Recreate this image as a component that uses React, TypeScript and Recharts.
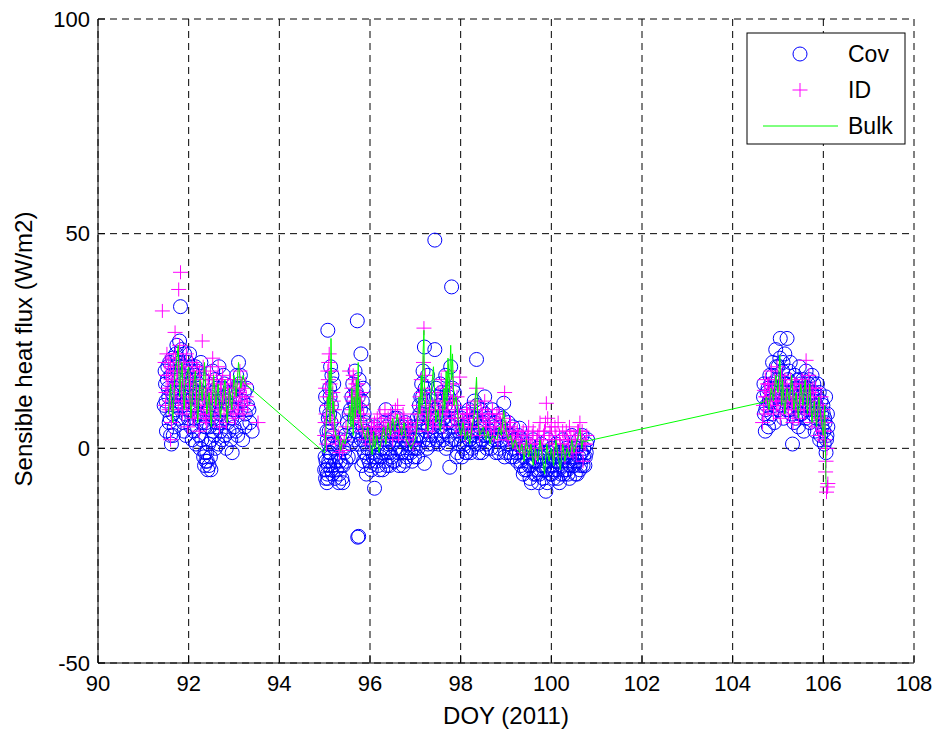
import React from 'react';
import { ComposedChart, Scatter, XAxis, YAxis, CartesianGrid, Label } from 'recharts';

// ---------- data (DOY, sensible heat flux W/m2) ----------
const xTicks = [90, 92, 94, 96, 98, 100, 102, 104, 106, 108];
const yTicks = [-50, 0, 50, 100];

const covBlock1: [number, number][] = [
  [91.48,18],[91.5,11],[91.52,9],[91.55,14],[91.57,6],[91.6,3],[91.62,1],[91.65,8],[91.67,12],[91.7,19],
  [91.72,22],[91.74,24],[91.76,21],[91.78,16],[91.8,25],[91.82,33],[91.84,23],[91.86,10],[91.88,6],[91.9,4],
  [91.93,13],[91.95,18],[91.98,20],[92.0,15],[92.03,9],[92.05,5],[92.08,2],[92.1,12],[92.13,17],[92.15,19],
  [92.18,14],[92.2,8],[92.23,3],[92.25,0],[92.28,6],[92.3,11],[92.33,-2],[92.35,-4],[92.38,-3],[92.4,-1],
  [92.42,-5],[92.45,-4],[92.48,-2],[92.5,2],[92.52,7],[92.55,13],[92.58,16],[92.6,10],[92.63,5],[92.66,1],
  [92.7,4],[92.72,9],[92.75,14],[92.78,12],[92.8,3],[92.83,0],[92.86,6],[92.9,10],[92.93,2],[92.96,-1],
  [93.0,5],[93.03,12],[93.06,17],[93.1,20],[93.12,15],[93.15,9],[93.18,6],[93.2,11],[93.23,13],[93.25,8],
  [93.3,10],[93.35,6],[93.4,4],
  [91.53,16],[91.58,20],[91.63,13],[91.68,5],[91.73,10],[91.77,7],[91.83,17],[91.87,19],[91.92,8],[91.97,11],
  [92.02,22],[92.07,18],[92.12,7],[92.17,10],[92.22,15],[92.27,20],[92.32,8],[92.37,5],[92.43,9],[92.47,12],
  [92.53,18],[92.57,3],[92.62,14],[92.67,19],[92.73,6],[92.77,17],[92.82,9],[92.88,13],[92.95,7],[93.02,9],[93.08,3],
  [91.46,10],[91.49,15],[91.51,4],[91.54,19],[91.56,12],[91.59,7],[91.61,17],[91.64,21],[91.66,3],[91.69,14],
  [91.71,9],[91.75,13],[91.79,11],[91.81,20],[91.85,15],[91.89,12],[91.91,22],[91.94,3],[91.96,16],[91.99,7],
  [92.01,12],[92.04,19],[92.06,14],[92.09,10],[92.11,4],[92.14,13],[92.16,1],[92.19,18],[92.21,11],[92.24,7],
  [92.26,13],[92.29,2],[92.31,16],[92.34,10],[92.36,-1],[92.39,6],[92.41,-3],[92.44,1],[92.46,5],[92.49,-5],
  [92.51,11],[92.54,4],[92.56,9],[92.59,0],[92.61,6],[92.64,11],[92.69,8],[92.74,2],[92.79,15],[92.84,11],
  [92.89,4],[92.94,13],[92.98,9],[93.04,4],[93.09,14],[93.14,17],[93.19,2],[93.24,5],[93.28,14],[93.33,9],
];

const covBlock2: [number, number][] = [
  [95.0,-5],[95.02,-7],[95.03,-3],[95.05,-8],[95.06,-6],[95.07,27.5],[95.08,-4],[95.09,1],[95.1,4],[95.11,8],
  [95.12,12],[95.13,-2],[95.14,6],[95.15,10],[95.17,-6],[95.18,3],[95.2,15],[95.22,0],[95.24,-3],[95.06,2],
  [95.04,9],[95.16,17],[95.1,-1],
  [95.3,-2],[95.32,-6],[95.35,2],[95.37,-4],[95.4,-8],[95.42,0],[95.45,3],[95.47,-3],[95.5,6],
  [95.55,5],[95.57,9],[95.6,12],[95.62,15],[95.63,3],[95.65,7],[95.67,18],[95.68,10],[95.7,13],[95.72,29.7],
  [95.73,-20.7],[95.75,-20.5],[95.76,16],[95.78,6],[95.8,22],[95.81,2],[95.82,-4],[95.83,11],[95.85,14],[95.87,8],
  [95.88,-1],[95.9,4],[95.92,-6],
  [95.95,0],[95.98,-3],[96.0,2],[96.03,-5],[96.05,-1],[96.08,3],[96.1,-9.3],[96.12,-2],[96.15,1],[96.18,-4],
  [96.2,4],[96.23,-2],[96.25,0],[96.28,-5],[96.3,2],[96.33,-3],[96.35,9],[96.36,5],[96.38,-1],[96.4,3],
  [96.43,-4],[96.45,6],[96.48,-2],[96.5,1],[96.53,4],[96.55,-3],[96.58,2],[96.6,7],[96.63,-1],[96.65,5],
  [96.68,0],[96.7,3],[96.73,-4],[96.75,2],[96.78,6],[96.8,-2],[96.83,1],[96.86,4],[96.9,-1],[96.93,-3],[96.96,2],
  [97.0,0],[97.03,3],[97.05,-2],[97.08,5],[97.1,8],[97.12,12],[97.14,15],[97.15,6],[97.17,18],[97.18,10],
  [97.2,23.6],[97.2,-3.5],[97.22,14],[97.23,4],[97.25,9],[97.27,17],[97.28,1],[97.3,7],[97.32,12],[97.35,3],
  [97.4,5],[97.43,48.5],[97.43,23],[97.45,9],[97.47,2],[97.5,12],[97.52,6],[97.55,15],[97.57,3],[97.6,8],
  [97.62,11],[97.65,4],[97.67,17],[97.7,13],[97.72,1],[97.74,9],[97.76,-4.4],[97.78,19],[97.8,37.6],[97.8,6],
  [97.82,14],[97.85,10],[97.88,2],[97.9,7],[97.93,-1],
  [98.0,3],[98.03,-2],[98.05,5],[98.08,1],[98.1,8],[98.13,-1],[98.15,4],[98.18,9],[98.2,2],[98.23,6],
  [98.25,0],[98.28,4],[98.3,11],[98.33,7],[98.35,20.7],[98.37,3],[98.4,-1],[98.42,5],[98.45,9],[98.48,2],
  [98.5,6],[98.53,12],[98.55,3],[98.58,0],[98.6,7],
  [98.65,4],[98.7,9],[98.72,2],[98.75,6],[98.78,-1],[98.8,3],[98.83,8],[98.85,0],[98.88,5],[98.9,2],
  [98.93,7],[98.95,10.5],[98.97,-2],[99.0,4],[99.03,1],[99.05,6],[99.08,-1],[99.1,3],[99.13,0],[99.15,5],
  [99.18,-2],[99.2,2],[99.25,-3],[99.28,1],[99.3,4.7],
  [99.3,-1],[99.33,-4],[99.35,2],[99.38,-6],[99.4,-2],[99.42,0],[99.45,-5],[99.48,-3],[99.5,1],[99.53,-7],
  [99.55,-4],[99.58,-1],[99.6,2],[99.62,-6],[99.65,-3],[99.68,0],[99.7,-5],[99.72,-8],[99.75,-2],[99.78,1],
  [99.8,-4],[99.82,-7],[99.85,-1],[99.88,-10],[99.9,-5],[99.92,2],[99.95,-3],[99.98,-6],[100.0,0],[100.03,-4],
  [100.05,-7],[100.08,-2],[100.1,1],[100.13,-5],[100.15,-3],[100.18,-8],[100.2,-1],[100.23,-4],[100.25,2],[100.28,-6],
  [100.3,-2],[100.33,0],[100.35,-5],[100.38,-3],[100.4,-7],[100.43,-1],[100.45,3],[100.48,-4],[100.5,-2],[100.53,-6],
  [100.55,0],[100.58,-3],[100.6,2],[100.63,-5],[100.65,-1],[100.68,3],[100.7,-4],[100.72,0],[100.75,-2],[100.78,1],
  [95.01,-2],[95.02,12],[95.04,-5],[95.05,4],[95.07,-7],[95.08,7],[95.09,-3],[95.11,14],[95.12,-1],[95.13,19],
  [95.14,-5],[95.16,1],[95.19,-4],[95.21,7],[95.23,-7],[95.26,-5],[95.28,1],[95.31,-8],[95.34,-3],[95.38,-7],
  [95.41,-4],[95.44,-1],[95.48,2],[95.52,-2],[95.54,8],[95.58,1],[95.61,-2],[95.64,11],[95.66,2],[95.69,4],
  [95.71,8],[95.74,12],[95.77,1],[95.79,9],[95.84,3],[95.86,-3],[95.89,6],[95.91,1],[95.94,-2],[95.97,3],
  [96.01,-4],[96.04,2],[96.07,-2],[96.11,5],[96.14,-3],[96.17,3],[96.21,-5],[96.24,3],[96.27,-1],[96.31,6],
  [96.34,0],[96.37,-4],[96.41,1],[96.44,-1],[96.47,4],[96.51,-3],[96.54,7],[96.57,0],[96.61,3],[96.64,-4],
  [96.67,4],[96.71,-1],[96.74,5],[96.77,-3],[96.81,3],[96.84,-1],[96.88,2],[96.91,5],[96.94,0],[96.98,-2],
  [97.01,2],[97.04,7],[97.06,0],[97.09,10],[97.11,3],[97.13,7],[97.16,12],[97.19,2],[97.21,8],[97.24,11],
  [97.26,0],[97.29,5],[97.31,2],[97.34,8],[97.38,1],[97.41,7],[97.44,3],[97.46,14],[97.48,7],[97.51,1],
  [97.53,10],[97.56,5],[97.58,13],[97.61,2],[97.63,7],[97.66,10],[97.68,0],[97.71,6],[97.73,12],[97.75,3],
  [97.79,10],[97.81,2],[97.84,5],[97.86,13],[97.89,4],[97.91,-2],[97.95,4],[97.97,1],
  [98.02,7],[98.06,0],[98.09,4],[98.12,-1],[98.16,6],[98.19,2],[98.22,-1],[98.26,3],[98.29,7],[98.32,1],
  [98.36,10],[98.39,4],[98.41,1],[98.44,6],[98.47,-1],[98.51,3],[98.54,8],[98.57,1],[98.62,3],[98.67,0],
  [98.73,5],[98.79,2],[98.84,-1],[98.91,4],[98.99,-1],[99.06,3],[99.12,-2],[99.17,2],[99.22,-1],[99.27,3],
  [99.32,-3],[99.37,0],[99.41,-5],[99.46,-1],[99.51,-4],[99.56,-8],[99.61,-3],[99.66,-6],[99.69,-2],[99.74,-6],
  [99.77,-4],[99.81,-1],[99.84,-5],[99.87,-3],[99.91,-8],[99.94,-1],[99.97,-4],[100.01,-6],[100.04,-2],[100.07,-5],
  [100.11,-3],[100.14,-7],[100.17,-1],[100.21,-6],[100.24,-3],[100.27,-1],[100.31,-5],[100.34,-2],[100.37,-6],[100.41,-4],
  [100.44,-2],[100.47,0],[100.51,-4],[100.54,-3],[100.57,-6],[100.61,-2],[100.64,-4],[100.67,-1],[100.71,-2],[100.74,-4],
  [100.77,-1],[100.8,2],
];

const covBlock3: [number, number][] = [
  [104.68,12],[104.7,8],[104.72,4],[104.75,10],[104.78,14],[104.8,7],[104.82,17],[104.85,11],[104.88,20],[104.9,13],
  [104.92,6],[104.95,23],[104.97,16],[105.0,19],[105.02,9],[105.05,25.6],[105.07,14],[105.1,18],[105.12,7],[105.15,22],
  [105.17,12],[105.2,25.6],[105.22,16],[105.25,9],[105.27,20],[105.3,13],[105.32,1],[105.35,6],[105.37,17],[105.4,10],
  [105.42,14],[105.45,5],[105.47,19],[105.5,12],[105.52,8],[105.55,16],[105.57,4],[105.6,13],[105.62,18],[105.65,9],
  [105.67,15],[105.7,6],[105.72,11],[105.75,17],[105.77,8],[105.8,13],[105.82,4],[105.85,10],[105.87,15],[105.9,7],
  [105.92,2],[105.95,11],[105.97,5],[106.0,8],[106.02,1],[106.04,6],[106.06,-1],[106.08,3],[106.1,5],[106.05,12],
  [104.69,15],[104.73,9],[104.76,13],[104.79,5],[104.81,11],[104.84,15],[104.86,8],[104.89,17],[104.91,10],[104.94,14],
  [104.96,19],[104.99,12],[105.01,16],[105.04,21],[105.06,10],[105.09,13],[105.11,20],[105.14,11],[105.16,15],[105.19,9],
  [105.21,13],[105.24,18],[105.26,12],[105.29,8],[105.31,15],[105.34,11],[105.36,14],[105.39,7],[105.41,12],[105.44,16],
  [105.46,10],[105.49,8],[105.51,15],[105.54,11],[105.56,14],[105.59,10],[105.61,7],[105.64,14],[105.66,12],[105.69,16],
  [105.71,10],[105.74,13],[105.76,9],[105.79,15],[105.81,11],[105.84,7],[105.86,12],[105.89,9],[105.91,13],[105.94,3],
  [105.96,8],[105.99,10],[106.01,4],[106.03,7],[106.07,2],[106.09,8],
];

const idBlock1: [number, number][] = [
  [91.42,32],[91.48,20],[91.5,13],[91.52,22],[91.55,17],[91.57,9],[91.6,19],[91.62,6],[91.65,15],[91.67,21],
  [91.7,27],[91.72,12],[91.75,18],[91.78,37],[91.8,24],[91.82,41],[91.84,14],[91.86,8],[91.88,20],[91.9,16],
  [91.93,11],[91.95,22],[91.98,5],[92.0,18],[92.03,13],[92.05,9],[92.08,20],[92.1,15],[92.13,7],[92.15,12],
  [92.18,19],[92.2,10],[92.23,4],[92.25,16],[92.28,13],[92.3,25],[92.33,8],[92.35,11],[92.38,17],[92.4,6],
  [92.43,14],[92.45,9],[92.48,18],[92.5,12],[92.53,21],[92.55,16],[92.58,7],[92.6,13],[92.63,10],[92.65,19],
  [92.68,5],[92.7,14],[92.73,11],[92.75,17],[92.78,8],[92.8,13],[92.83,6],[92.86,15],[92.88,10],[92.9,12],
  [92.93,9],[92.96,14],[93.0,11],[93.03,7],[93.05,13],[93.08,16],[93.1,10],[93.13,18],[93.15,12],[93.18,9],
  [93.2,14],[93.23,11],[93.25,15],[93.3,10],[93.53,6],[91.6,2],
  [91.49,10],[91.51,17],[91.54,14],[91.56,20],[91.59,11],[91.61,16],[91.64,9],[91.66,18],[91.69,13],[91.71,22],
  [91.74,16],[91.77,10],[91.79,19],[91.81,15],[91.85,11],[91.87,17],[91.89,13],[91.92,19],[91.96,9],[91.99,15],
  [92.01,11],[92.04,16],[92.07,12],[92.09,7],[92.12,17],[92.14,10],[92.17,14],[92.19,8],[92.22,12],[92.24,18],
  [92.27,9],[92.29,14],[92.32,19],[92.34,12],[92.37,7],[92.39,13],[92.42,10],[92.44,16],[92.47,12],[92.49,8],
  [92.52,15],[92.57,11],[92.62,16],[92.67,9],[92.72,15],[92.77,12],[92.82,10],[92.87,13],[92.92,16],[92.98,8],
  [93.02,14],[93.07,9],[93.12,13],[93.17,15],[93.22,8],[93.27,12],
];

const idBlock2: [number, number][] = [
  [95.0,3],[95.03,8],[95.05,12],[95.07,18],[95.09,20],[95.1,22],[95.12,15],[95.14,10],[95.16,6],[95.18,13],
  [95.2,4],[95.22,9],[95.04,1],
  [95.3,3],[95.33,-1],[95.36,1],[95.4,-0.5],[95.43,2],[95.47,5],
  [95.55,18],[95.57,8],[95.6,14],[95.62,11],[95.64,16],[95.66,7],[95.68,12],[95.7,9],[95.73,15],[95.75,6],
  [95.78,10],[95.8,13],[95.83,4],[95.86,8],[95.9,2],
  [95.95,4],[96.0,1],[96.03,5],[96.06,2],[96.1,6],[96.13,3],[96.16,7],[96.2,4],[96.22,8],[96.26,2],
  [96.3,5],[96.33,9],[96.36,3],[96.4,7],[96.43,4],[96.46,8],[96.5,2],[96.53,6],[96.56,9],[96.61,10],
  [96.63,3],[96.66,7],[96.7,4],[96.73,8],[96.76,5],[96.8,2],[96.83,6],[96.86,3],[96.9,5],[96.95,1],
  [97.0,4],[97.05,8],[97.1,12],[97.13,16],[97.15,9],[97.18,20],[97.19,28],[97.2,14],[97.23,6],[97.25,11],
  [97.28,4],[97.3,9],[97.33,7],[97.38,5],[97.42,10],[97.45,6],[97.5,13],[97.53,8],[97.57,16],[97.6,11],
  [97.63,5],[97.67,14],[97.7,9],[97.73,18],[97.77,12],[97.8,7],[97.83,15],[97.87,10],[97.9,5],[97.95,8],[97.98,16.6],
  [98.02,4],[98.05,7],[98.1,3],[98.13,9],[98.17,5],[98.2,8],[98.25,4],[98.3,10],[98.35,14],[98.38,7],
  [98.42,3],[98.45,9],[98.5,6],[98.53,11],[98.57,4],[98.6,8],[98.65,5],[98.7,9],[98.73,3],[98.78,6],
  [98.82,2],[98.85,8],[98.9,4],[98.93,7],[98.97,13],
  [99.0,5],[99.05,2],[99.1,6],[99.15,3],[99.2,1],[99.25,4],[99.3,0],[99.35,3],[99.4,-1],[99.45,2],
  [99.5,5],[99.55,1],[99.6,4],[99.65,-2],[99.7,3],[99.75,6],[99.8,0],[99.85,4],[99.89,10.5],[99.92,7],
  [99.95,2],[100.0,5],[100.05,-1],[100.1,3],[100.15,6],[100.2,1],[100.25,4],[100.3,-2],[100.35,2],[100.4,5],
  [100.45,0],[100.5,3],[100.55,-1],[100.6,4],[100.63,6],[100.66,2],[100.7,-3],[100.75,1],[100.78,3],
  [95.01,6],[95.02,14],[95.06,10],[95.08,16],[95.11,7],[95.13,12],[95.15,18],[95.17,9],[95.19,11],[95.21,6],
  [95.24,2],[95.58,12],[95.61,9],[95.63,17],[95.65,13],[95.67,10],[95.69,15],[95.71,11],[95.74,8],[95.77,12],
  [95.79,7],[95.81,10],[95.85,5],[96.02,3],[96.08,5],[96.15,4],[96.25,6],[96.35,5],[96.45,6],[96.55,4],
  [96.65,5],[96.75,7],[96.85,5],[97.02,6],[97.07,10],[97.12,8],[97.16,13],[97.22,17],[97.27,8],[97.35,9],
  [97.4,6],[97.48,11],[97.55,9],[97.62,13],[97.66,8],[97.72,10],[97.76,15],[97.82,11],[97.86,7],[97.92,12],
  [98.08,6],[98.15,8],[98.22,5],[98.28,7],[98.33,11],[98.4,5],[98.48,8],[98.55,6],[98.63,7],[98.68,3],
  [98.75,5],[98.8,8],[98.88,6],[98.95,4],[99.02,3],[99.08,5],[99.13,2],[99.18,4],[99.23,2],[99.28,3],
  [99.33,1],[99.38,4],[99.43,0],[99.48,3],[99.53,1],[99.58,3],[99.63,0],[99.68,2],[99.73,4],[99.78,1],
  [99.83,3],[99.87,6],[99.97,4],[100.02,2],[100.08,5],[100.12,1],[100.18,3],[100.22,-1],[100.28,2],[100.33,4],
  [100.38,1],[100.43,3],[100.48,-1],[100.53,2],[100.58,4],[100.68,4],[100.72,1],
];

const idBlock3: [number, number][] = [
  [104.66,6],[104.68,10],[104.7,13.5],[104.72,16],[104.75,12],[104.78,9],[104.8,15],[104.83,11],[104.85,18],[104.88,14],
  [104.9,8],[104.93,16],[104.95,12],[104.98,19],[105.0,10],[105.03,15],[105.05,7],[105.08,17],[105.1,13],[105.13,9],
  [105.15,16],[105.18,11],[105.2,14],[105.23,8],[105.25,12],[105.28,16],[105.3,10],[105.33,6],[105.35,13],[105.38,9],
  [105.4,15],[105.43,11],[105.45,7],[105.48,14],[105.5,10],[105.53,16],[105.55,12],[105.58,8],[105.6,15],[105.62,20.5],
  [105.65,11],[105.68,17],[105.7,9],[105.73,13],[105.75,6],[105.78,12],[105.8,8],[105.83,14],[105.85,5],[105.88,10],
  [105.9,3],[105.93,7],[105.95,12],[105.98,4],[106.0,9],[106.02,2],[106.04,6],[106.05,-5.5],[106.07,-10.2],[106.1,-8.2],[106.08,0],
  [104.69,8],[104.73,12],[104.77,15],[104.82,13],[104.87,11],[104.92,14],[104.97,10],[105.02,13],[105.07,11],[105.12,14],
  [105.17,12],[105.22,10],[105.27,13],[105.32,11],[105.37,15],[105.42,9],[105.47,12],[105.52,13],[105.57,10],[105.63,14],
  [105.67,13],[105.72,10],[105.77,14],[105.82,10],[105.87,8],[105.92,10],[105.97,7],[106.03,4],[106.06,-3],[106.09,-9],
];

const bulkSeries: [number, number][] = [
  [91.55,8],[91.6,15],[91.65,6],[91.7,18],[91.75,22],[91.77,24],[91.8,12],[91.85,20],[91.9,9],[91.95,17],
  [92.0,19],[92.05,7],[92.1,14],[92.15,18],[92.2,6],[92.25,16],[92.3,11],[92.35,20],[92.4,8],[92.45,13],
  [92.5,5],[92.55,17],[92.6,10],[92.65,15],[92.7,7],[92.75,12],[92.8,16],[92.85,6],[92.9,14],[92.95,9],
  [93.0,17],[93.05,12],[93.1,20],[93.15,14],[93.2,17],[93.25,15],
  [95.0,-1],[95.03,5],[95.06,12],[95.08,9],[95.1,18],[95.12,6],[95.14,25.6],[95.16,14],[95.18,8],[95.2,11],
  [95.23,4],[95.27,2],[95.3,3],[95.35,-0.5],[95.4,2],[95.45,1],[95.5,4],[95.55,10],[95.58,5],[95.6,14],
  [95.63,3],[95.65,12],[95.68,7],[95.7,16],[95.72,9],[95.74,20],[95.76,8],[95.78,12],[95.8,6],[95.85,4],
  [95.9,2],[95.95,5],[96.0,1],[96.05,-1.5],[96.08,4],[96.1,0],[96.15,3],[96.2,-1],[96.25,2],[96.3,5],
  [96.35,1],[96.4,6],[96.45,3],[96.5,7],[96.55,4],[96.6,8],[96.65,5],[96.7,3],[96.75,6],[96.8,2],
  [96.85,1],[96.9,0],[96.95,1],[97.0,2],[97.05,6],[97.08,12],[97.1,8],[97.13,17],[97.15,10],[97.17,22],
  [97.19,27.5],[97.2,15],[97.22,11],[97.25,7],[97.28,4],[97.3,8],[97.35,13],[97.4,19],[97.43,12],[97.45,6],
  [97.5,9],[97.55,4],[97.6,8],[97.63,14],[97.65,9],[97.68,18],[97.7,11],[97.72,21],[97.75,13],[97.78,24],
  [97.8,16],[97.82,22],[97.85,10],[97.9,12],[97.95,6],[98.0,3],[98.05,6],[98.1,2],[98.15,4],[98.2,1],
  [98.25,5],[98.3,8],[98.35,16.6],[98.38,6],[98.42,3],[98.5,5],[98.55,2],[98.6,4],[98.65,1],[98.7,3],
  [98.8,2],[98.85,5],[98.9,3],[98.95,8.9],[99.0,4],[99.05,2],[99.1,3],[99.15,0],[99.2,2],[99.3,-1],
  [99.35,1],[99.4,-3],[99.45,2],[99.5,-2],[99.55,1],[99.6,-4],[99.65,0],[99.7,-3],[99.75,2],[99.8,-2],
  [99.85,-6],[99.9,1],[99.95,-3],[100.0,0],[100.05,-4],[100.1,2],[100.15,-2],[100.2,-5],[100.25,1],[100.3,-3],
  [100.35,0],[100.4,-2],[100.45,2],[100.5,-1],[100.55,1],[100.6,3],[100.63,4.7],[100.67,0],[100.7,2],[100.74,1.6],
  [104.7,10.8],[104.75,12],[104.8,9],[104.85,14],[104.9,11],[104.95,17],[105.0,13],[105.04,21.7],[105.08,10],[105.1,16],
  [105.15,8],[105.2,14],[105.25,11],[105.3,17],[105.35,9],[105.4,13],[105.45,7],[105.5,15],[105.55,10],[105.6,16],
  [105.65,8],[105.7,15],[105.75,6],[105.8,11],[105.85,5],[105.9,12],[105.95,7],[106.0,3],[106.03,10],[106.05,-2],[106.06,-9],
];

const toPoints = (arr: [number, number][]) => arr.map(([doy, flux]) => ({ doy, flux }));
const covData = toPoints([...covBlock1, ...covBlock2, ...covBlock3]);
const idData = toPoints([...idBlock1, ...idBlock2, ...idBlock3]);
const bulkData = toPoints(bulkSeries);

// ---------- styles ----------
const FONT = '"Liberation Sans", Arial, Helvetica, sans-serif';
const BLUE = '#0000ff';
const MAGENTA = '#ff00ff';
const GREEN = '#00ff00';

const CircleShape = (p: any) => (
  <circle cx={p.cx} cy={p.cy} r={7} fill="none" stroke={BLUE} strokeWidth={1} />
);
const PlusShape = (p: any) => (
  <path
    d={`M${p.cx - 7.5},${p.cy}H${p.cx + 7.5}M${p.cx},${p.cy - 7}V${p.cy + 7}`}
    stroke={MAGENTA}
    strokeWidth={1}
    fill="none"
  />
);
const NoShape = () => <g />;

const tickStyle = { fill: '#000', fontSize: 22, fontFamily: FONT };

const YLabel = (props: any) => {
  const vb = props.viewBox || { x: 0, y: 19, width: 98, height: 644 };
  const cx = vb.x + 24;
  const cy = vb.y + vb.height / 2 + 8;
  return (
    <text
      x={cx}
      y={cy}
      transform={`rotate(-90 ${cx} ${cy})`}
      textAnchor="middle"
      dy="0.35em"
      fontSize={24}
      fontFamily={FONT}
      fill="#000"
    >
      Sensible heat flux (W/m2)
    </text>
  );
};

export default function App() {
  return (
    <div style={{ position: 'absolute', left: 0, top: 0, width: 941, height: 731, background: '#fff' }}>
      <ComposedChart width={941} height={731} margin={{ top: 19, right: 27, bottom: 28, left: 0 }}>
        <CartesianGrid stroke="#000" strokeDasharray="7 5" strokeWidth={1} />
        <XAxis
          type="number"
          dataKey="doy"
          domain={[90, 108]}
          ticks={xTicks}
          interval={0}
          allowDataOverflow
          height={40}
          tickSize={-7}
          tickMargin={19}
          axisLine={{ stroke: '#000' }}
          tickLine={{ stroke: '#000' }}
          tick={tickStyle}
        >
          <Label value="DOY (2011)" position="bottom" offset={4} style={{ fill: '#000', fontSize: 24, fontFamily: FONT }} />
        </XAxis>
        <XAxis
          xAxisId="top"
          orientation="top"
          type="number"
          domain={[90, 108]}
          ticks={xTicks}
          interval={0}
          allowDataOverflow
          height={0}
          tickSize={-7}
          tickFormatter={() => ''}
          axisLine={{ stroke: '#000' }}
          tickLine={{ stroke: '#000' }}
        />
        <YAxis
          type="number"
          dataKey="flux"
          domain={[-50, 100]}
          ticks={yTicks}
          interval={0}
          allowDataOverflow
          width={98}
          tickSize={-7}
          tickMargin={15}
          axisLine={{ stroke: '#000' }}
          tickLine={{ stroke: '#000' }}
          tick={tickStyle}
        >
          <Label value="Sensible heat flux (W/m2)" position="insideLeft" content={YLabel} />
        </YAxis>
        <YAxis
          yAxisId="right"
          orientation="right"
          type="number"
          domain={[-50, 100]}
          ticks={yTicks}
          interval={0}
          allowDataOverflow
          width={0}
          tickSize={-7}
          tickFormatter={() => ''}
          axisLine={{ stroke: '#000' }}
          tickLine={{ stroke: '#000' }}
        />
        <Scatter name="Cov" data={covData} shape={CircleShape} isAnimationActive={false} />
        <Scatter name="ID" data={idData} shape={PlusShape} isAnimationActive={false} />
        <Scatter
          name="Bulk"
          data={bulkData}
          shape={NoShape}
          line={{ stroke: GREEN, strokeWidth: 1 }}
          lineType="joint"
          isAnimationActive={false}
        />
      </ComposedChart>
      <svg
        width={941}
        height={731}
        style={{ position: 'absolute', left: 0, top: 0, pointerEvents: 'none' }}
      >
        <rect x={747} y={33} width={158} height={111} fill="#fff" stroke="#000" strokeWidth={1} />
        <circle cx={800} cy={54} r={7} fill="none" stroke={BLUE} strokeWidth={1} />
        <text x={848} y={62} fontSize={23} fontFamily={FONT} fill="#000">Cov</text>
        <path d="M792.5,90H807.5M800,83V97" stroke={MAGENTA} strokeWidth={1} fill="none" />
        <text x={848} y={98} fontSize={23} fontFamily={FONT} fill="#000">ID</text>
        <line x1={763} y1={126} x2={838} y2={126} stroke={GREEN} strokeWidth={1} />
        <text x={848} y={134} fontSize={23} fontFamily={FONT} fill="#000">Bulk</text>
      </svg>
    </div>
  );
}
